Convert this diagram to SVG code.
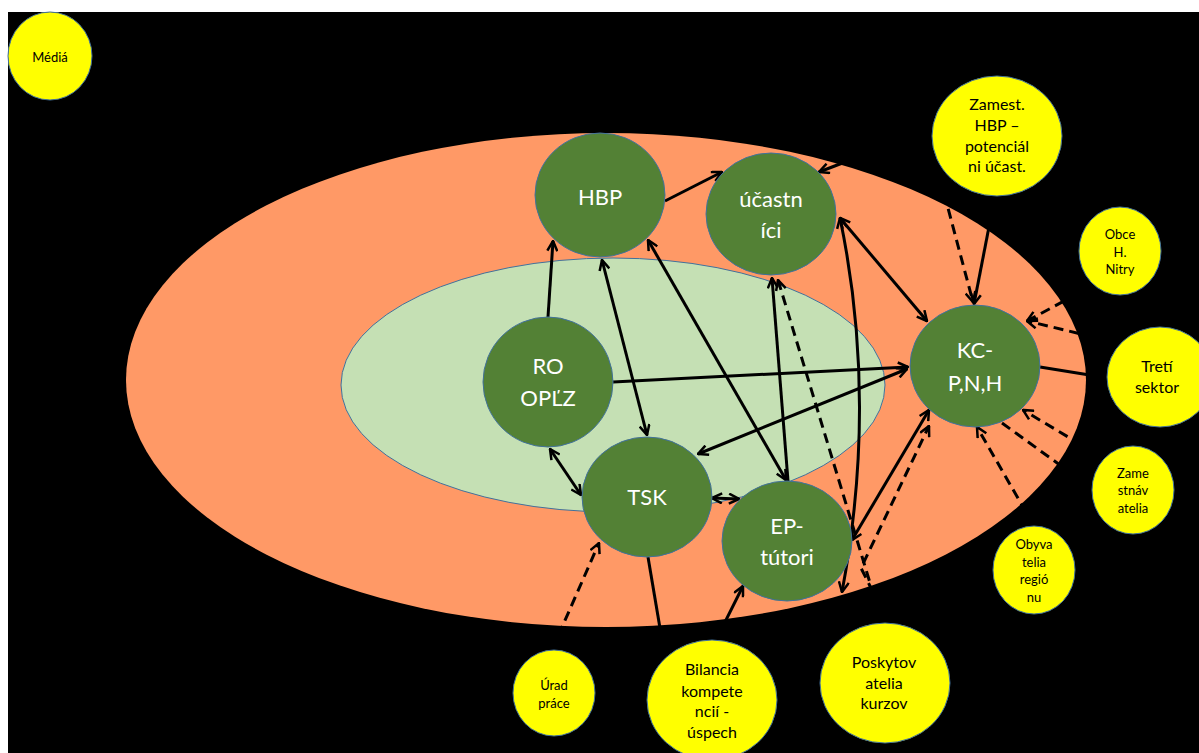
<svg xmlns="http://www.w3.org/2000/svg" width="1199" height="753" viewBox="0 0 1199 753">
<style>
.g ellipse{fill:#538135;stroke:#41719C;stroke-width:1}
.y ellipse{fill:#FFFF00;stroke:#41719C;stroke-width:1}
.g text{fill:#FFFFFF;font-family:Lato,"Liberation Sans",sans-serif;font-size:22px;text-anchor:middle}
.y text{fill:#000000;font-family:Lato,"Liberation Sans",sans-serif;text-anchor:middle}
.m{font-size:16px}
.s{font-size:13px}
#connectors path{fill:none;stroke:#000;stroke-width:3}
#connectors .d{stroke-dasharray:10 6}
</style>
<defs>
<marker id="ah" viewBox="0 0 12 12" refX="11" refY="6" markerWidth="12" markerHeight="12" orient="auto-start-reverse" markerUnits="userSpaceOnUse">
<path d="M1,1 L11,6 L1,11" fill="none" stroke="#000" stroke-width="2.5"/>
</marker>
</defs>
<rect x="0" y="0" width="1199" height="753" fill="#FFFFFF"/>
<rect x="8" y="12" width="1191" height="741" fill="#000000"/>
<ellipse id="outer" cx="606" cy="380" rx="480" ry="247" fill="#FF9966"/>
<ellipse id="inner" cx="613" cy="385" rx="272" ry="127" fill="#C5E0B4" stroke="#41719C" stroke-width="1"/>
<g id="connectors">
<path d="M548,317 L553,241" marker-end="url(#ah)"/>
<path d="M602,260 L647,435" marker-start="url(#ah)" marker-end="url(#ah)"/>
<path d="M648,240 L786,480" marker-start="url(#ah)" marker-end="url(#ah)"/>
<path d="M665,201 L722,172" marker-end="url(#ah)"/>
<path d="M788,481 L772,278" marker-end="url(#ah)"/>
<path d="M840,218 L927,321" marker-start="url(#ah)" marker-end="url(#ah)"/>
<path d="M840,218 Q878,400 842,592" marker-start="url(#ah)" marker-end="url(#ah)"/>
<path d="M613,382 L908,367" marker-end="url(#ah)"/>
<path d="M907,369 L698,454" marker-start="url(#ah)" marker-end="url(#ah)"/>
<path d="M550,449 L581,495" marker-start="url(#ah)" marker-end="url(#ah)"/>
<path d="M712,498 L739,499" marker-start="url(#ah)" marker-end="url(#ah)"/>
<path d="M852,540 L929,410" marker-start="url(#ah)" marker-end="url(#ah)"/>
<path d="M662,640 L648,557"/>
<path d="M716,640 L743,586" marker-end="url(#ah)"/>
<path d="M995,196 L974,304" marker-end="url(#ah)"/>
<path d="M1040,367 L1108,378"/>
<path d="M934,128 L819,172" marker-end="url(#ah)"/>
<path class="d" d="M552,650 L599,543" marker-end="url(#ah)"/>
<path class="d" d="M874,596 L778,280" marker-end="url(#ah)"/>
<path class="d" d="M873,592 L861,568 L929,426" marker-end="url(#ah)"/>
<path class="d" d="M940,178 L973,302" marker-end="url(#ah)"/>
<path class="d" d="M1092,286 L1027,321" marker-end="url(#ah)"/>
<path class="d" d="M1110,341 L1027,321" marker-end="url(#ah)"/>
<path class="d" d="M1095,453 L1023,410" marker-end="url(#ah)"/>
<path class="d" d="M1002,423 L1093,489"/>
<path class="d" d="M1034,526 L977,427" marker-end="url(#ah)"/>
</g>
<g id="hbp" class="g"><ellipse cx="600" cy="195" rx="65" ry="62"/><text x="600" y="205">HBP</text></g>
<g id="ucastnici" class="g"><ellipse cx="771" cy="214" rx="65" ry="61"/><text x="771" y="207">účastn</text><text x="771" y="238">íci</text></g>
<g id="ro-oplz" class="g"><ellipse cx="548" cy="382" rx="65" ry="65"/><text x="548" y="374">RO</text><text x="548" y="406">OPĽZ</text></g>
<g id="tsk" class="g"><ellipse cx="647" cy="497" rx="65" ry="60"/><text x="647" y="505">TSK</text></g>
<g id="ep-tutori" class="g"><ellipse cx="787" cy="541" rx="65" ry="60"/><text x="787" y="534">EP-</text><text x="787" y="565">tútori</text></g>
<g id="kc" class="g"><ellipse cx="975" cy="366" rx="65" ry="61"/><text x="975" y="358">KC-</text><text x="975" y="391">P,N,H</text></g>
<g id="media" class="y"><ellipse cx="50" cy="56" rx="42" ry="44"/><text class="s" x="50" y="62">Médiá</text></g>
<g id="zamest-hbp" class="y"><ellipse cx="997" cy="136" rx="65" ry="60"/><text class="m" x="997" y="110">Zamest.</text><text class="m" x="997" y="131">HBP –</text><text class="m" x="997" y="152">potenciál</text><text class="m" x="997" y="172">ni účast.</text></g>
<g id="obce" class="y"><ellipse cx="1120" cy="251" rx="41" ry="44"/><text class="s" x="1120" y="239">Obce</text><text class="s" x="1120" y="257">H.</text><text class="s" x="1120" y="274">Nitry</text></g>
<g id="treti-sektor" class="y"><ellipse cx="1160" cy="377" rx="53" ry="50"/><text class="m" x="1157" y="372">Tretí</text><text class="m" x="1157" y="393">sektor</text></g>
<g id="zamestnavatelia" class="y"><ellipse cx="1133" cy="490" rx="41" ry="44"/><text class="s" x="1133" y="478">Zame</text><text class="s" x="1133" y="495">stnáv</text><text class="s" x="1133" y="513">atelia</text></g>
<g id="obyvatelia" class="y"><ellipse cx="1034" cy="570" rx="41" ry="44"/><text class="s" x="1034" y="549">Obyva</text><text class="s" x="1034" y="567">telia</text><text class="s" x="1034" y="584">regió</text><text class="s" x="1034" y="602">nu</text></g>
<g id="urad-prace" class="y"><ellipse cx="554" cy="693" rx="41" ry="43"/><text class="s" x="554" y="690">Úrad</text><text class="s" x="554" y="708">práce</text></g>
<g id="bilancia" class="y"><ellipse cx="712" cy="700" rx="65" ry="60"/><text class="m" x="712" y="675">Bilancia</text><text class="m" x="712" y="697">kompete</text><text class="m" x="712" y="717">ncií -</text><text class="m" x="712" y="738">úspech</text></g>
<g id="poskytovatelia" class="y"><ellipse cx="885" cy="683" rx="65" ry="60"/><text class="m" x="884" y="668">Poskytov</text><text class="m" x="884" y="689">atelia</text><text class="m" x="884" y="709">kurzov</text></g>
</svg>
